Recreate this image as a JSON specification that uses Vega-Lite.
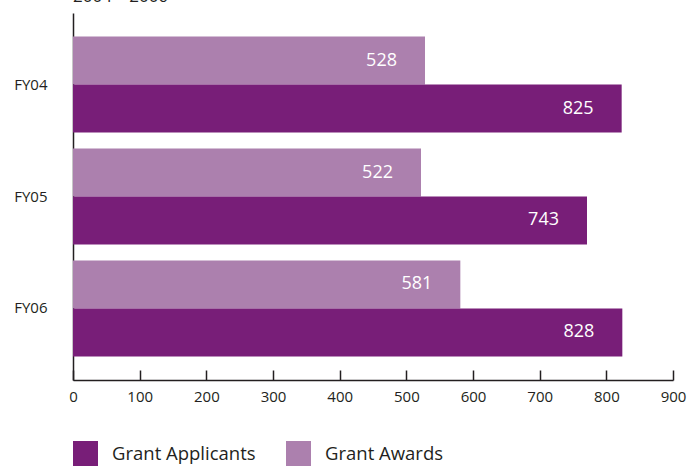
{
  "$schema": "https://vega.github.io/schema/vega-lite/v6.json",
  "width": 600,
  "height": 367,
  "autosize": {"type": "none"},
  "padding": {"top": 13, "left": 73, "right": 14, "bottom": 89},
  "background": "white",
  "config": {"view": {"stroke": null}},
  "title": {"text": "2004 – 2006", "anchor": "start", "frame": "group", "offset": 0, "fontSize": 17, "font": "Open Sans", "fontWeight": "normal", "color": "#231f20", "baseline": "alphabetic", "dy": 6},
  "data": {"values": [
    {"year": "FY04", "series": "Grant Awards", "bar": 528, "label": 528},
    {"year": "FY04", "series": "Grant Applicants", "bar": 823, "label": 825},
    {"year": "FY05", "series": "Grant Awards", "bar": 522, "label": 522},
    {"year": "FY05", "series": "Grant Applicants", "bar": 771, "label": 743},
    {"year": "FY06", "series": "Grant Awards", "bar": 581, "label": 581},
    {"year": "FY06", "series": "Grant Applicants", "bar": 824, "label": 828}
  ]},
  "encoding": {
    "y": {"field": "year", "type": "nominal", "title": null,
      "scale": {"paddingInner": 0.143, "paddingOuter": 0.21},
      "axis": {"ticks": false, "labelPadding": 26, "labelFontSize": 15, "labelFont": "Open Sans", "labelColor": "#231f20", "domainColor": "#231f20", "domainWidth": 1.5, "labelAlign": "right"}},
    "yOffset": {"field": "series", "type": "nominal", "scale": {"domain": ["Grant Awards", "Grant Applicants"], "paddingInner": 0, "paddingOuter": 0}},
    "x": {"field": "bar", "type": "quantitative", "title": null,
      "scale": {"domain": [0, 900], "nice": false},
      "axis": {"values": [0,100,200,300,400,500,600,700,800,900], "grid": false, "labelFlush": false, "tickSize": -10, "tickColor": "#231f20", "tickWidth": 1.5, "domainColor": "#231f20", "domainWidth": 1.5, "labelPadding": 19, "labelFontSize": 15, "labelFont": "Open Sans", "labelColor": "#231f20"}}
  },
  "layer": [
    {
      "mark": {"type": "bar"},
      "encoding": {
        "color": {"field": "series", "type": "nominal", "title": null,
          "scale": {"domain": ["Grant Applicants", "Grant Awards"], "range": ["#781e78", "#ac80ae"]},
          "legend": {"orient": "none", "legendX": 0, "legendY": 428, "direction": "horizontal", "symbolType": "square", "symbolSize": 625, "symbolStrokeWidth": 0, "symbolOpacity": 1, "labelFontSize": 18.5, "labelFont": "Open Sans", "labelColor": "#231f20", "labelOffset": 14, "columnPadding": 30, "labelLimit": 0}}
      }
    },
    {
      "mark": {"type": "text", "align": "right", "dx": -28, "color": "white", "fontSize": 18, "font": "Open Sans"},
      "encoding": {"text": {"field": "label", "type": "quantitative"}}
    }
  ]
}
